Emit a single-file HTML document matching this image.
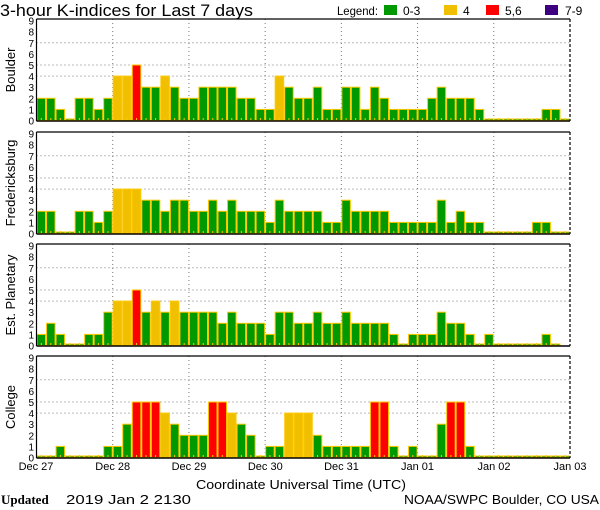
<!DOCTYPE html>
<html><head><meta charset="utf-8"><style>
html,body{margin:0;padding:0;background:#fff;}
svg{display:block;font-family:"Liberation Sans",sans-serif;}
</style></head><body>
<svg id="s" width="600" height="510" xmlns="http://www.w3.org/2000/svg">
<text x="0" y="16" font-size="17" textLength="253" lengthAdjust="spacingAndGlyphs">3-hour K-indices for Last 7 days</text>
<text x="337" y="15" font-size="12" textLength="41" lengthAdjust="spacingAndGlyphs">Legend:</text>
<rect x="384" y="5" width="13" height="10" fill="#009900"/><text x="403" y="15" font-size="12">0-3</text>
<rect x="444" y="5" width="13" height="10" fill="#f0c000"/><text x="463" y="15" font-size="12">4</text>
<rect x="486" y="5" width="13" height="10" fill="#ff0000"/><text x="505" y="15" font-size="12">5,6</text>
<rect x="545" y="5" width="13" height="10" fill="#3c0080"/><text x="565" y="15" font-size="12">7-9</text>
<g id="g"></g>
<g font-size="11" text-anchor="middle">
<text x="36" y="470">Dec 27</text><text x="112.7" y="470">Dec 28</text><text x="189" y="470">Dec 29</text><text x="265.3" y="470">Dec 30</text><text x="341.5" y="470">Dec 31</text><text x="417.5" y="470">Jan 01</text><text x="494" y="470">Jan 02</text><text x="570" y="470">Jan 03</text>
</g>
<text x="301" y="489" font-size="13" text-anchor="middle" textLength="210" lengthAdjust="spacingAndGlyphs">Coordinate Universal Time (UTC)</text>
<text x="1" y="504" font-size="13" font-family="Liberation Serif,serif" font-weight="bold">Updated</text>
<text x="66" y="504" font-size="13" textLength="125" lengthAdjust="spacingAndGlyphs">2019 Jan  2 2130</text>
<text x="599" y="504" font-size="13" text-anchor="end" textLength="195" lengthAdjust="spacingAndGlyphs">NOAA/SWPC Boulder, CO USA</text>
</svg>
<script>
var panels=[
["Boulder",19,[2,2,1,0,2,2,1,2, 4,4,5,3,3,4,3,2, 2,3,3,3,3,2,2,1, 1,4,3,2,2,3,1,1, 3,3,1,3,2,1,1,1, 1,2,3,2,2,2,1,0, 0,0,0,0,0,1,1,0]],
["Fredericksburg",132,[2,2,0,0,2,2,1,2, 4,4,4,3,3,2,3,3, 2,2,3,2,3,2,2,2, 1,3,2,2,2,2,1,1, 3,2,2,2,2,1,1,1, 1,1,3,1,2,1,1,0, 0,0,0,0,1,1,0,0]],
["Est. Planetary",244,[1,2,1,0,0,1,1,3, 4,4,5,3,4,3,4,3, 3,3,3,2,3,2,2,2, 1,3,3,2,2,3,2,2, 3,2,2,2,2,1,0,1, 1,1,3,2,2,1,0,1, 0,0,0,0,0,1,0,-1]],
["College",356,[0,0,1,0,0,0,0,1, 1,3,5,5,5,4,3,2, 2,2,5,5,4,3,2,0, 1,1,4,4,4,2,1,1, 1,1,1,5,5,1,0,1, 0,0,3,5,5,1,0,0, 0,0,0,0,0,0,0,0]]];
var L=36.5,R=570,W=(R-L)/56,U=11.1,h="";
panels.forEach(function(p){
 var t=p[1],b=t+102,base=b-0.5;
 [4,5,7].forEach(function(k){var y=base-k*U;h+='<line x1="'+L+'" x2="'+R+'" y1="'+y+'" y2="'+y+'" stroke="#777" stroke-dasharray="1,3"/>';});
 for(var d=1;d<7;d++){var x=L+d*8*W;h+='<line x1="'+x+'" x2="'+x+'" y1="'+t+'" y2="'+b+'" stroke="#777" stroke-dasharray="1,3"/>';}
 p[2].forEach(function(v,i){
  if(v<0){return;}
  var x=L+i*W,c=v<=3?"#009900":v==4?"#f0c000":v<=6?"#ff0000":"#3c0080";
  var hh=v==0?1.5:v*U;
  h+='<rect x="'+(x+0.5)+'" y="'+(base-hh)+'" width="'+(W-1)+'" height="'+hh+'" fill="'+c+'" stroke="#ffc800" stroke-width="1"/>';
  h+='<rect x="'+(x+W/2-0.5)+'" y="'+(b-3)+'" width="1" height="2" fill="#ffc800"/>';
 });
 h+='<line x1="'+L+'" x2="'+R+'" y1="'+t+'" y2="'+t+'" stroke="#000" stroke-width="1.2"/>';
 h+='<line x1="'+L+'" x2="'+R+'" y1="'+b+'" y2="'+b+'" stroke="#000" stroke-width="1.4"/>';
 h+='<line x1="'+L+'" x2="'+L+'" y1="'+t+'" y2="'+b+'" stroke="#000" stroke-width="1.2"/>';
 h+='<line x1="'+R+'" x2="'+R+'" y1="'+t+'" y2="'+b+'" stroke="#000" stroke-width="1.2" stroke-dasharray="3,2"/>';
 for(var k=0;k<=9;k++){h+='<text x="34" y="'+(base-k*U+4)+'" font-size="10" text-anchor="end">'+k+'</text>';}
 var cy=t+51;
 h+='<text transform="translate(15,'+cy+') rotate(-90)" font-size="13" text-anchor="middle">'+p[0]+'</text>';
});
document.getElementById("g").innerHTML=h;
</script>
</body></html>
